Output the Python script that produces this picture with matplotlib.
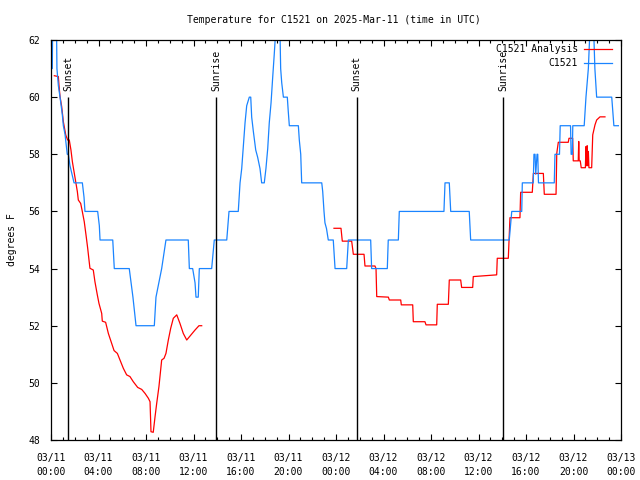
import numpy as np
import matplotlib
matplotlib.use('Agg')
import matplotlib.pyplot as plt
from matplotlib.ticker import MultipleLocator

# hours since 2025-03-11 00:00 UTC
obs_t = [0.0, 0.11, 0.15, 0.45, 0.5, 0.62, 0.76, 0.95, 1.04, 1.18, 1.37, 1.46, 1.6, 1.94,
         2.64, 2.78, 2.86, 3.93, 4.07, 4.13, 5.2, 5.33, 6.59, 6.9, 7.16, 8.7, 8.84, 9.32,
         9.68, 11.56, 11.65, 11.93, 12.13, 12.21, 12.4, 12.49, 13.53, 13.75, 14.8, 14.99,
         15.77, 15.92, 16.06, 16.2, 16.34, 16.48, 16.7, 16.82, 16.9, 17.04, 17.24, 17.4,
         17.6, 17.74, 17.96, 18.1, 18.25, 18.38, 18.53, 18.67, 18.8, 18.95, 19.1, 19.25,
         19.34, 19.43, 19.57, 19.9, 19.98, 20.07, 20.83, 20.91, 21.03, 21.11, 22.8, 22.88,
         22.99, 23.07, 23.2, 23.35, 23.77, 23.92, 24.9, 25.04, 26.92, 27.0, 28.32, 28.4,
         29.25, 29.33, 33.09, 33.18, 33.54, 33.66, 35.22, 35.34, 38.59, 38.8, 39.64, 39.69,
         40.61, 40.67, 40.76, 40.82, 40.93, 40.99, 41.05, 42.38, 42.44, 42.82, 42.88, 43.75,
         43.8, 43.9, 43.94, 44.9, 45.05, 45.25, 45.45, 45.65, 45.8, 45.95, 47.22, 47.4, 47.78]
obs_v = [61, 61, 63, 63, 61, 60.4, 60, 59.4, 59, 58.7, 58, 58, 57.6, 57,
         57, 56.5, 56, 56, 55.5, 55, 55, 54, 54, 53, 52, 52, 53, 54,
         55, 55, 54, 54, 53.5, 53, 53, 54, 54, 55, 55, 56,
         56, 57, 57.5, 58.3, 59.1, 59.7, 60, 60, 59.3, 58.8, 58.15, 57.9,
         57.5, 57, 57, 57.5, 58.2, 59.1, 59.8, 60.7, 61.5, 62.5, 63, 63,
         61, 60.5, 60, 60, 59.5, 59, 59, 58.5, 58, 57, 57, 56.7,
         56, 55.6, 55.4, 55, 55, 54, 54, 55, 55, 54, 54, 55,
         55, 56, 56, 57, 57, 56, 56, 55, 55, 56, 56, 57,
         57, 58, 58, 57.3, 58, 58, 57, 57, 58, 58, 59, 59,
         58, 58, 59, 59, 60, 61, 63, 63, 61, 60, 60, 59, 59]

ana1_t = [0.28, 0.62, 0.67, 0.76, 0.9, 1.04, 1.24, 1.4, 1.54, 1.68, 1.8, 1.94, 2.08, 2.22,
          2.3, 2.5, 2.64, 2.8, 2.95, 3.09, 3.2, 3.28, 3.56, 3.7, 3.9, 4.04, 4.27, 4.32,
          4.6, 4.83, 5.11, 5.31, 5.59, 5.81, 6.09, 6.37, 6.65, 6.93, 7.3, 7.64, 7.92, 8.2,
          8.34, 8.42, 8.61, 8.76, 8.9, 9.09, 9.32, 9.52, 9.68, 9.88, 10.08, 10.3, 10.59,
          10.86, 11.14, 11.43, 11.71, 12.13, 12.46, 12.69]
ana1_v = [60.75, 60.72, 60.43, 60.02, 59.67, 59.14, 58.68, 58.5, 58.5, 58.15, 57.74, 57.39,
          57.04, 56.69, 56.4, 56.28, 55.99, 55.64, 55.17, 54.71, 54.3, 54.01, 53.95, 53.54,
          53.08, 52.78, 52.43, 52.16, 52.12, 51.73, 51.38, 51.13, 51.03, 50.8, 50.51, 50.28,
          50.22, 50.04, 49.84, 49.77, 49.63, 49.46, 49.34, 48.29, 48.27, 48.81, 49.28, 49.87,
          50.8, 50.86, 51.03, 51.5, 51.91, 52.26, 52.38, 52.08, 51.73, 51.5, 51.64, 51.85,
          52.0, 52.0]

ana2_t = [23.83, 24.42, 24.53, 25.32, 25.46, 26.36, 26.44, 27.28, 27.37, 27.43, 28.41, 28.49,
          29.45, 29.5, 30.46, 30.51, 31.49, 31.58, 32.48, 32.53, 33.46, 33.54, 34.5, 34.58,
          35.51, 35.56, 36.55, 37.53, 37.58, 38.51, 38.65, 39.49, 39.55, 40.53, 40.62, 41.46,
          41.54, 42.53, 42.59, 42.72, 43.56, 43.62, 43.93, 43.98, 44.4, 44.44, 44.48, 44.57,
          44.65, 45.0, 45.05, 45.1, 45.15, 45.2, 45.25, 45.3, 45.53, 45.62, 45.81, 45.95,
          46.23, 46.65]
ana2_v = [55.41, 55.41, 54.96, 54.96, 54.5, 54.5, 54.09, 54.09, 54.0, 53.02, 53.0, 52.9,
          52.9, 52.73, 52.73, 52.14, 52.14, 52.03, 52.03, 52.75, 52.75, 53.6, 53.6, 53.34,
          53.34, 53.72, 53.75, 53.78, 54.36, 54.36, 55.78, 55.78, 56.67, 56.67, 57.33, 57.33,
          56.6, 56.6, 58.03, 58.42, 58.42, 58.56, 58.56, 57.77, 57.77, 58.45, 57.77, 57.77,
          57.53, 57.53, 58.27, 57.6, 58.3, 57.6, 58.1, 57.53, 57.53, 58.68, 59.03, 59.2,
          59.31, 59.31]

sun_t = [1.46, 13.89, 25.74, 38.09]
sun_labels = ['Sunset', 'Sunrise', 'Sunset', 'Sunrise']

xtick_labels = ['03/11\n00:00', '03/11\n04:00', '03/11\n08:00', '03/11\n12:00',
                '03/11\n16:00', '03/11\n20:00', '03/12\n00:00', '03/12\n04:00',
                '03/12\n08:00', '03/12\n12:00', '03/12\n16:00', '03/12\n20:00',
                '03/13\n00:00']

plt.rcParams['font.family'] = 'DejaVu Sans Mono'
plt.rcParams['font.size'] = 7

fig = plt.figure(figsize=(6.4, 4.8), dpi=100)
ax = fig.add_axes([51 / 640, 40 / 480, 570 / 640, 400 / 480])

ana_t = ana1_t + [np.nan] + ana2_t
ana_v = ana1_v + [np.nan] + ana2_v
ax.plot(ana_t, ana_v, color='#ff0000', lw=0.9, label='C1521 Analysis')
ax.plot(obs_t, obs_v, color='#1a84ff', lw=0.9, label='C1521')

ax.vlines(sun_t, 48, 60, color='black', lw=1.0)
for t, lab in zip(sun_t, sun_labels):
    ax.text(t, 60.22, lab, rotation=90, ha='center', va='bottom')

ax.set_xlim(0, 48)
ax.set_ylim(48, 62)
ax.set_xticks(np.arange(0, 49, 4))
ax.set_xticklabels(xtick_labels, linespacing=1.6)
ax.xaxis.set_minor_locator(MultipleLocator(1))
ax.set_yticks(np.arange(48, 63, 2))
ax.tick_params(which='both', direction='in', top=True, right=True)
ax.tick_params(which='major', length=4, width=0.8)
ax.tick_params(which='minor', length=2, width=0.8)
ax.tick_params(axis='x', pad=9)
ax.tick_params(axis='y', pad=8)
for s in ax.spines.values():
    s.set_linewidth(0.9)

ax.set_ylabel('degrees F', labelpad=8)
fig.text(0.5215, 1 - 20 / 480, 'Temperature for C1521 on 2025-Mar-11 (time in UTC)',
         ha='center', va='center')

ax.legend(loc='upper right', bbox_to_anchor=(1 - 9 / 570, 0.99), frameon=False,
          markerfirst=False, handlelength=2.9, handletextpad=0.6, borderpad=0,
          borderaxespad=0, labelspacing=0.45)

fig.savefig('out.png', dpi=100)
